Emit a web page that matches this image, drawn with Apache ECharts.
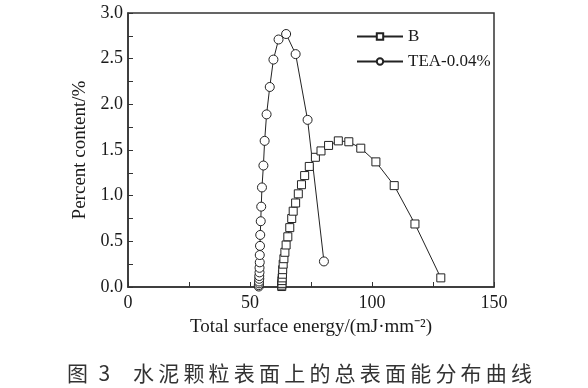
<!DOCTYPE html>
<html><head><meta charset="utf-8">
<script src="https://cdn.jsdelivr.net/npm/echarts@6/dist/echarts.min.js"></script>
<style>html,body{margin:0;padding:0;background:#fff}#c{width:588px;height:388px}</style>
</head><body><div id="c"></div>
<script>
const seriesNames = ['B', 'TEA-0.04%'];
const bX = [63.0,63.0,63.1,63.1,63.2,63.3,63.4,63.6,63.9,64.3,64.8,65.5,66.3,67.1,67.7,68.7,69.8,71.1,72.4,74.3,76.8,79.1,82.2,86.2,90.5,95.4,101.6,109.1,117.6,128.2];
const bY = [0.005,0.02,0.04,0.07,0.10,0.14,0.19,0.25,0.31,0.38,0.46,0.55,0.65,0.75,0.83,0.92,1.02,1.12,1.22,1.32,1.42,1.49,1.55,1.60,1.59,1.52,1.37,1.11,0.69,0.10];
const teaX = [53.6,53.6,53.7,53.7,53.8,53.8,53.9,53.9,54.0,54.0,54.1,54.2,54.4,54.6,54.9,55.5,56.0,56.8,58.1,59.6,61.7,64.8,68.7,73.6,80.3];
const teaY = [0.005,0.02,0.04,0.06,0.09,0.12,0.16,0.21,0.27,0.35,0.45,0.57,0.72,0.88,1.09,1.33,1.60,1.89,2.19,2.49,2.71,2.77,2.55,1.83,0.28];
const xTitle = 'Total surface energy/(mJ·mm⁻²)';
const yTitle = 'Percent content/%';
const captionNum = '图\u20023';
const caption = '水泥颗粒表面上的总表面能分布曲线';

const serif = 'Liberation Serif';
const zip = (xs, ys) => xs.map((x, i) => [x, ys[i]]);
const chart = echarts.init(document.getElementById('c'), null, {renderer: 'canvas'});
const labelText = {color: '#1a1a1a', fontFamily: serif, fontSize: 18};
const nameText = {color: '#1a1a1a', fontFamily: serif, fontSize: 19};
chart.setOption({
  animation: false,
  backgroundColor: '#fff',
  grid: {left: 128, right: 94, top: 13, bottom: 101, show: true, borderColor: '#333', borderWidth: 1.5, backgroundColor: 'transparent'},
  legend: {
    orient: 'vertical', left: 351, top: 23, itemWidth: 46, itemHeight: 8, itemGap: 8,
    textStyle: {fontFamily: serif, fontSize: 17, color: '#1a1a1a'},
    data: seriesNames
  },
  xAxis: {
    type: 'value', min: 0, max: 150, interval: 50,
    name: xTitle, nameLocation: 'middle', nameGap: 31,
    nameTextStyle: nameText,
    axisLine: {show: true, lineStyle: {color: '#333', width: 1.5}},
    axisTick: {show: true, inside: true, length: 5, lineStyle: {color: '#333'}},
    minorTick: {show: true, splitNumber: 2, length: 5, lineStyle: {color: '#333'}},
    axisLabel: Object.assign({margin: 7}, labelText),
    splitLine: {show: false}
  },
  yAxis: {
    type: 'value', min: 0, max: 3, interval: 0.5,
    name: yTitle, nameLocation: 'middle', nameGap: 37,
    nameTextStyle: nameText,
    axisLine: {show: true, lineStyle: {color: '#333', width: 1.5}},
    axisTick: {show: true, inside: true, length: 5, lineStyle: {color: '#333'}},
    minorTick: {show: true, splitNumber: 2, length: 5, lineStyle: {color: '#333'}},
    axisLabel: Object.assign({margin: 5, formatter: v => v.toFixed(1)}, labelText),
    splitLine: {show: false}
  },
  series: [
    {name: seriesNames[0], type: 'line', data: zip(bX, bY), symbol: 'rect', symbolSize: 8,
     lineStyle: {color: '#222', width: 1}, itemStyle: {color: '#fff', borderColor: '#222', borderWidth: 1}},
    {name: seriesNames[1], type: 'line', data: zip(teaX, teaY), symbol: 'circle', symbolSize: 9,
     lineStyle: {color: '#222', width: 1}, itemStyle: {color: '#fff', borderColor: '#222', borderWidth: 1}}
  ],
  graphic: [
    {type: 'text', left: 67, top: 363, style: {text: captionNum, fontFamily: 'Noto Sans CJK SC', fontSize: 21, fill: '#333'}},
    {type: 'text', left: 133, top: 363, style: {text: caption.split('').join('\u2009'), fontFamily: 'Noto Sans CJK SC', fontSize: 21, fill: '#333'}}
  ]
});
</script></body></html>
